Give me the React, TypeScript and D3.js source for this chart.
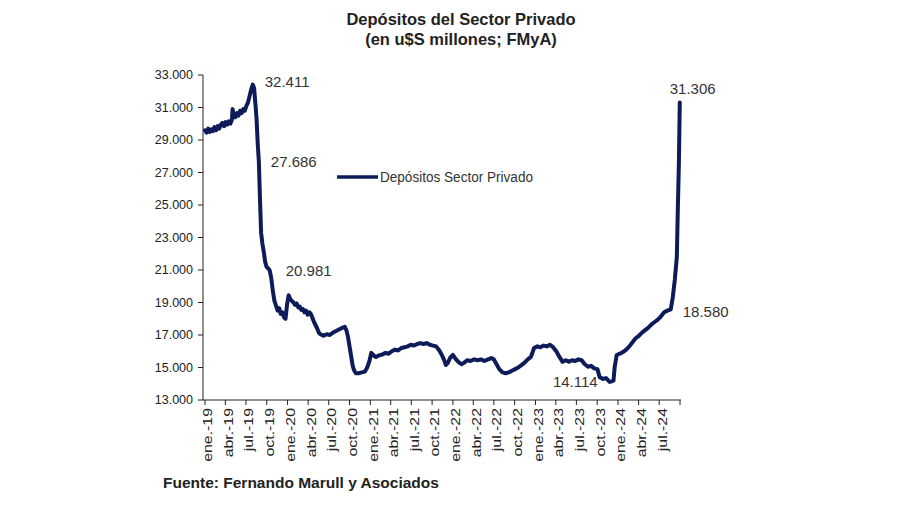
import React from "react";
import * as d3 from "d3";

type Pt = [string, number];

const s2019: Pt[] = [
  ["2019-01-01", 29600], ["2019-01-08", 29450], ["2019-01-15", 29700], ["2019-01-22", 29500], ["2019-01-29", 29650],
  ["2019-02-05", 29550], ["2019-02-12", 29800], ["2019-02-19", 29600], ["2019-02-26", 29850], ["2019-03-05", 29700],
  ["2019-03-12", 29950], ["2019-03-19", 30050], ["2019-03-26", 29850], ["2019-04-02", 30100], ["2019-04-09", 29950],
  ["2019-04-16", 30150], ["2019-04-23", 30000], ["2019-04-30", 30250], ["2019-05-03", 30900], ["2019-05-08", 30500],
  ["2019-05-15", 30400], ["2019-05-22", 30650], ["2019-05-29", 30500], ["2019-06-05", 30800], ["2019-06-12", 30650],
  ["2019-06-19", 30900], ["2019-06-26", 30800], ["2019-07-03", 31100], ["2019-07-10", 31300], ["2019-07-17", 31700],
  ["2019-07-24", 32100], ["2019-07-31", 32411], ["2019-08-06", 32200], ["2019-08-12", 31200], ["2019-08-17", 30300],
  ["2019-08-22", 28800], ["2019-08-27", 27686], ["2019-09-02", 25000], ["2019-09-06", 23300], ["2019-09-12", 22600],
  ["2019-09-18", 22100], ["2019-09-24", 21500], ["2019-09-30", 21200], ["2019-10-07", 21100], ["2019-10-14", 20981],
  ["2019-10-21", 20500], ["2019-10-28", 19700], ["2019-11-04", 19100], ["2019-11-11", 18800], ["2019-11-18", 18500],
  ["2019-11-25", 18650], ["2019-12-02", 18300], ["2019-12-09", 18400], ["2019-12-16", 18100], ["2019-12-23", 18000],
  ["2019-12-30", 18900],
];

const s2020: Pt[] = [
  ["2020-01-06", 19450], ["2020-01-13", 19200], ["2020-01-20", 19100], ["2020-01-27", 19000], ["2020-02-03", 18850],
  ["2020-02-10", 18950], ["2020-02-17", 18700], ["2020-02-24", 18750], ["2020-03-02", 18550], ["2020-03-09", 18600],
  ["2020-03-16", 18400], ["2020-03-23", 18500], ["2020-03-30", 18250], ["2020-04-06", 18400], ["2020-04-13", 18300],
  ["2020-04-20", 18050], ["2020-04-27", 17800], ["2020-05-04", 17600], ["2020-05-11", 17400], ["2020-05-18", 17150],
  ["2020-05-25", 17050], ["2020-06-08", 16950], ["2020-06-22", 17050], ["2020-07-06", 17000], ["2020-07-20", 17150],
  ["2020-08-03", 17250], ["2020-08-17", 17350], ["2020-08-31", 17450], ["2020-09-10", 17500], ["2020-09-17", 17300],
  ["2020-09-24", 16900], ["2020-10-01", 16300], ["2020-10-08", 15700], ["2020-10-15", 15100], ["2020-10-22", 14800],
  ["2020-10-29", 14650], ["2020-11-10", 14650], ["2020-11-24", 14700], ["2020-12-08", 14750], ["2020-12-18", 15000],
  ["2020-12-28", 15400],
];

const s2021: Pt[] = [
  ["2021-01-05", 15900], ["2021-01-12", 15800], ["2021-01-19", 15700], ["2021-01-26", 15650], ["2021-02-09", 15750],
  ["2021-02-23", 15800], ["2021-03-09", 15900], ["2021-03-23", 15850], ["2021-04-06", 16000], ["2021-04-20", 16100],
  ["2021-05-04", 16050], ["2021-05-18", 16200], ["2021-06-01", 16250], ["2021-06-15", 16300], ["2021-06-29", 16400],
  ["2021-07-13", 16350], ["2021-07-27", 16450], ["2021-08-10", 16500], ["2021-08-24", 16450], ["2021-09-07", 16500],
  ["2021-09-21", 16400], ["2021-10-05", 16350], ["2021-10-19", 16300], ["2021-11-02", 16050], ["2021-11-12", 15800],
  ["2021-11-22", 15500], ["2021-12-01", 15150], ["2021-12-10", 15300], ["2021-12-20", 15600],
];

const s2022: Pt[] = [
  ["2022-01-01", 15770], ["2022-01-12", 15550], ["2022-01-25", 15350], ["2022-02-08", 15200], ["2022-02-20", 15300],
  ["2022-03-05", 15450], ["2022-03-20", 15400], ["2022-04-05", 15500], ["2022-04-20", 15450], ["2022-05-05", 15500],
  ["2022-05-20", 15400], ["2022-06-05", 15500], ["2022-06-20", 15580], ["2022-07-01", 15500], ["2022-07-13", 15200],
  ["2022-07-25", 14900], ["2022-08-08", 14700], ["2022-08-22", 14650], ["2022-09-05", 14700], ["2022-09-19", 14800],
  ["2022-10-03", 14900], ["2022-10-17", 15000], ["2022-10-31", 15150], ["2022-11-14", 15300], ["2022-11-28", 15500],
  ["2022-12-12", 15650], ["2022-12-26", 16200],
];

const s2023: Pt[] = [
  ["2023-01-09", 16300], ["2023-01-23", 16250], ["2023-02-06", 16350], ["2023-02-20", 16300], ["2023-03-06", 16400],
  ["2023-03-20", 16250], ["2023-04-03", 16000], ["2023-04-17", 15650], ["2023-05-01", 15350], ["2023-05-15", 15450],
  ["2023-05-29", 15350], ["2023-06-12", 15450], ["2023-06-26", 15400], ["2023-07-10", 15500], ["2023-07-24", 15450],
  ["2023-08-07", 15200], ["2023-08-21", 15050], ["2023-09-04", 15100], ["2023-09-18", 14950], ["2023-10-02", 14900],
  ["2023-10-12", 14400], ["2023-10-26", 14300], ["2023-11-09", 14350], ["2023-11-25", 14114], ["2023-12-05", 14150],
  ["2023-12-12", 14200], ["2023-12-17", 15000], ["2023-12-26", 15770],
];

const s2024: Pt[] = [
  ["2024-01-09", 15850], ["2024-01-23", 15950], ["2024-02-06", 16100], ["2024-02-20", 16300], ["2024-03-05", 16550],
  ["2024-03-19", 16800], ["2024-04-02", 16950], ["2024-04-16", 17150], ["2024-04-30", 17300], ["2024-05-14", 17450],
  ["2024-05-28", 17650], ["2024-06-11", 17800], ["2024-06-25", 17950], ["2024-07-09", 18150], ["2024-07-23", 18400],
  ["2024-08-06", 18500], ["2024-08-21", 18580], ["2024-08-30", 19300], ["2024-09-08", 20400], ["2024-09-17", 21800],
  ["2024-09-21", 24500], ["2024-09-26", 27500], ["2024-09-30", 31306],
];

const annotationDates: string[] = ["2019-07-31", "2019-08-27", "2019-10-14", "2023-11-25", "2024-08-21", "2024-09-30"];
const annotationValues: number[] = [32411, 27686, 20981, 14114, 18580, 31306];

const yTicks: number[] = [13000, 15000, 17000, 19000, 21000, 23000, 25000, 27000, 29000, 31000, 33000];
const monthAbbr: string[] = ["ene.", "feb.", "mar.", "abr.", "may.", "jun.", "jul.", "ago.", "sep.", "oct.", "nov.", "dic."];

const title1 = "Depósitos del Sector Privado";
const title2 = "(en u$S millones; FMyA)";
const seriesName = "Depósitos Sector Privado";
const source = "Fuente: Fernando Marull y Asociados";

const parse = d3.timeParse("%Y-%m-%d");

export default function App() {
  const W = 900, H = 505;
  const x = d3.scaleTime().domain([new Date(2019, 0, 1), new Date(2024, 9, 1)]).range([205, 680]);
  const y = d3.scaleLinear().domain([13000, 33000]).range([400, 75]);
  const all: Pt[] = [...s2019, ...s2020, ...s2021, ...s2022, ...s2023, ...s2024];
  const data = all.map(([d, v]) => ({ date: parse(d) as Date, value: v }));
  const line = d3.line<{ date: Date; value: number }>().x(d => x(d.date)).y(d => y(d.value));
  const xTicks = x.ticks(d3.timeMonth.every(3) as d3.TimeInterval);
  const fmt = (v: number) => d3.format(",")(v).replace(/,/g, ".");
  const lineColor = "#0d1c58";
  const font = "'Liberation Sans', Arial, sans-serif";

  const annOffsets: [number, number, string][] = [
    [12, -3, "start"],
    [12, 0, "start"],
    [16, 0, "start"],
    [-12, 0, "end"],
    [12, 2, "start"],
    [-10, -14, "start"],
  ];

  return (
    <svg width={W} height={H} style={{ position: "absolute", left: 0, top: 0, background: "#fff" }} fontFamily={font}>
      <rect x={0} y={0} width={W} height={H} fill="#fff" />
      <text x={461} y={25} textAnchor="middle" fontSize={16.5} fontWeight="bold" fill="#222">{title1}</text>
      <text x={461} y={45} textAnchor="middle" fontSize={16.5} fontWeight="bold" fill="#222">{title2}</text>

      {/* y axis */}
      <line x1={203} x2={203} y1={75} y2={400} stroke="#222" strokeWidth={1} />
      {yTicks.map(t => (
        <g key={t}>
          <line x1={198} x2={203} y1={y(t)} y2={y(t)} stroke="#222" />
          <text x={193} y={y(t)} dy="0.35em" textAnchor="end" fontSize={12.5} fill="#222">{fmt(t)}</text>
        </g>
      ))}

      {/* x axis */}
      <line x1={203} x2={681} y1={400} y2={400} stroke="#222" strokeWidth={1} />
      {xTicks.map((t, i) => (
        <g key={i}>
          <line x1={x(t)} x2={x(t)} y1={400} y2={405} stroke="#222" />
          {i < xTicks.length - 1 && (
            <text
              transform={`translate(${x(t) + 3},408) rotate(-90) scale(1.27,1)`}
              textAnchor="end"
              dy="0.35em"
              fontSize={12.5}
              fill="#222"
            >
              {`${monthAbbr[t.getMonth()]}-${String(t.getFullYear()).slice(2)}`}
            </text>
          )}
        </g>
      ))}

      {/* series */}
      <path d={line(data) || ""} fill="none" stroke={lineColor} strokeWidth={4} strokeLinejoin="round" strokeLinecap="round" />

      {/* annotations */}
      {annotationDates.map((d, i) => {
        const dt = parse(d) as Date;
        const [dx, dy, anchor] = annOffsets[i];
        return (
          <text key={d} x={x(dt) + dx} y={y(annotationValues[i]) + dy} dy="0.35em" textAnchor={anchor} fontSize={15} fill="#333">
            {fmt(annotationValues[i])}
          </text>
        );
      })}

      {/* legend */}
      <line x1={337} x2={378} y1={177} y2={177} stroke={lineColor} strokeWidth={3.5} />
      <text x={380} y={177} dy="0.35em" fontSize={14} fill="#333" textLength={153} lengthAdjust="spacingAndGlyphs">{seriesName}</text>

      {/* source */}
      <text x={163} y={483} dy="0.35em" fontSize={15.5} fontWeight="bold" fill="#222">{source}</text>
    </svg>
  );
}
